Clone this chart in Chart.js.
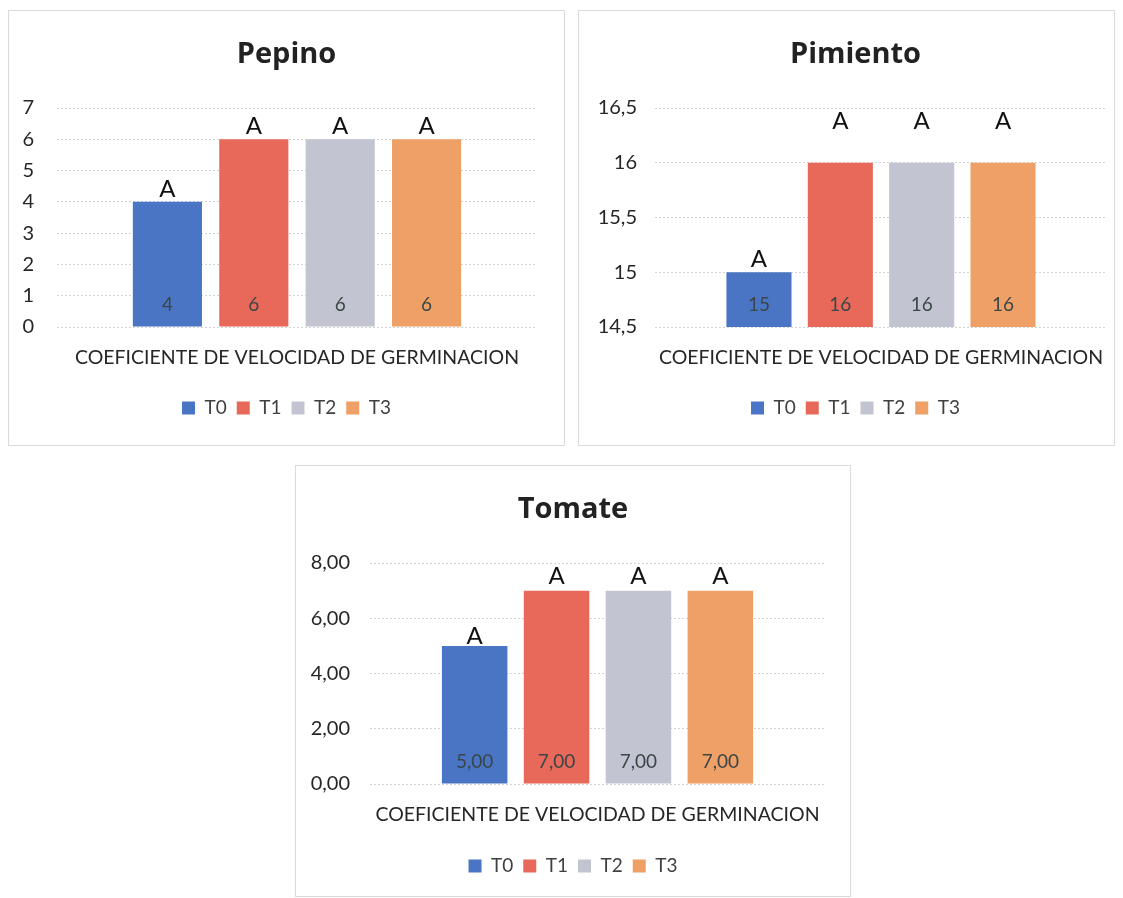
<!DOCTYPE html>
<html>
<head>
<meta charset="utf-8">
<script src="https://cdn.jsdelivr.net/npm/chart.js@4.4.0/dist/chart.umd.min.js"></script>
<style>
  body { margin: 0; background: #fff; width: 1123px; height: 898px; position: relative; overflow: hidden; }
  .panel { position: absolute; border: 1px solid #dadada; background: #fff; }
  .panel canvas { display: block; }
</style>
</head>
<body>
<div class="panel" style="left:8px;top:10px;"><canvas id="pepino" width="555" height="434"></canvas></div>
<div class="panel" style="left:578px;top:10px;"><canvas id="pimiento" width="535" height="434"></canvas></div>
<div class="panel" style="left:295px;top:465px;"><canvas id="tomate" width="554" height="430"></canvas></div>
<script>
// datos
var tratamientos = ['T0', 'T1', 'T2', 'T3'];
var categoria = ['COEFICIENTE DE VELOCIDAD DE GERMINACION'];
var pepino = [4, 6, 6, 6];
var pimiento = [15, 16, 16, 16];
var tomate = [5, 7, 7, 7];
var letrasPepino = ['A', 'A', 'A', 'A'];
var letrasPimiento = ['A', 'A', 'A', 'A'];
var letrasTomate = ['A', 'A', 'A', 'A'];
var ejePepino = [0, 1, 2, 3, 4, 5, 6, 7];
var ejePimiento = [14.5, 15, 15.5, 16, 16.5];
var ejeTomate = [0, 2, 4, 6, 8];

var colores = ['#4a75c5', '#e8685a', '#c2c5d1', '#eea066'];
var fuente = 'Lato';

// numero con coma decimal; dec null = formato general
function coma(v, dec) {
    var s = dec == null ? String(Math.round(v * 100) / 100) : v.toFixed(dec);
    return s.replace('.', ',');
}

// valor dentro de la base de la barra y letra encima
var etiquetas = {
    id: 'etiquetas',
    afterDatasetsDraw: function (chart, args, opts) {
        var ctx = chart.ctx;
        var fondo = chart.chartArea.bottom;
        ctx.save();
        ctx.textAlign = 'center';
        chart.data.datasets.forEach(function (ds, i) {
            var bar = chart.getDatasetMeta(i).data[0];
            ctx.font = '19px ' + fuente;
            ctx.fillStyle = '#3b4646';
            ctx.textBaseline = 'middle';
            ctx.fillText(coma(ds.data[0], opts.dec), bar.x, Math.min(bar.base, fondo) - 22);
            ctx.font = '24px ' + fuente;
            ctx.fillStyle = '#111';
            ctx.textBaseline = 'alphabetic';
            ctx.fillText(opts.letras[i], bar.x, bar.y - opts.alto[i]);
        });
        ctx.restore();
    }
};

function grafico(id, titulo, valores, eje, dec, letras, alto, m) {
    var ctx = document.getElementById(id).getContext('2d');
    return new Chart(ctx, {
        type: 'bar',
        data: {
            labels: categoria,
            datasets: tratamientos.map(function (t, i) {
                return {
                    label: t,
                    data: [valores[i]],
                    backgroundColor: colores[i],
                    categoryPercentage: 0.72,
                    barPercentage: 0.8
                };
            })
        },
        options: {
            responsive: false,
            animation: false,
            layout: { padding: { top: 26.6, left: m.izq, right: 0, bottom: m.abajo } },
            plugins: {
                title: {
                    display: true,
                    text: titulo,
                    color: '#222',
                    font: { family: 'Open Sans', size: 29, weight: 'bold' },
                    padding: { top: 0, bottom: 35.6 }
                },
                legend: {
                    position: 'bottom',
                    labels: {
                        color: '#404040',
                        font: { family: fuente, size: 19 },
                        boxWidth: 13,
                        boxHeight: 13,
                        padding: 10
                    }
                },
                tooltip: { enabled: false },
                etiquetas: { dec: dec, letras: letras, alto: alto }
            },
            scales: {
                x: {
                    grid: { display: false, drawTicks: false },
                    border: { display: false },
                    ticks: {
                        color: '#262626',
                        font: { family: fuente, size: 19.5 },
                        padding: 19,
                        maxRotation: 0,
                        autoSkip: false
                    },
                    // la etiqueta larga no debe encoger el area del grafico
                    afterFit: function (a) {
                        a.height = m.xAlto;
                        a.paddingLeft = 0;
                        a.paddingRight = 0;
                    }
                },
                y: {
                    min: eje[0],
                    max: eje[eje.length - 1],
                    border: { display: false, dash: [2, 2] },
                    grid: { color: '#d2d2d2', drawTicks: false },
                    ticks: {
                        stepSize: eje[1] - eje[0],
                        color: '#262626',
                        font: { family: fuente, size: 20 },
                        padding: m.pad,
                        callback: function (v) { return coma(v, m.tickDec); }
                    },
                    afterFit: function (a) { a.width = m.eje; }
                },
                derecha: {
                    position: 'right',
                    display: true,
                    grid: { display: false },
                    border: { display: false },
                    ticks: { display: false },
                    afterFit: function (a) { a.width = m.der; }
                }
            }
        },
        plugins: [etiquetas]
    });
}

grafico('pepino', 'Pepino', pepino, ejePepino, 0, letrasPepino, [5, 5, 5, 5],
    { izq: 0, eje: 48, der: 27, xAlto: 61.5, abajo: 17.5, pad: 23, tickDec: 0 });
grafico('pimiento', 'Pimiento', pimiento, ejePimiento, 0, letrasPimiento, [5, 34, 34, 34],
    { izq: 18, eje: 58, der: 7, xAlto: 61.5, abajo: 17.5, pad: 18, tickDec: null });
grafico('tomate', 'Tomate', tomate, ejeTomate, 2, letrasTomate, [2, 7, 7, 7],
    { izq: 0, eje: 74, der: 25, xAlto: 62.5, abajo: 10.5, pad: 20, tickDec: 2 });
</script>
</body>
</html>
